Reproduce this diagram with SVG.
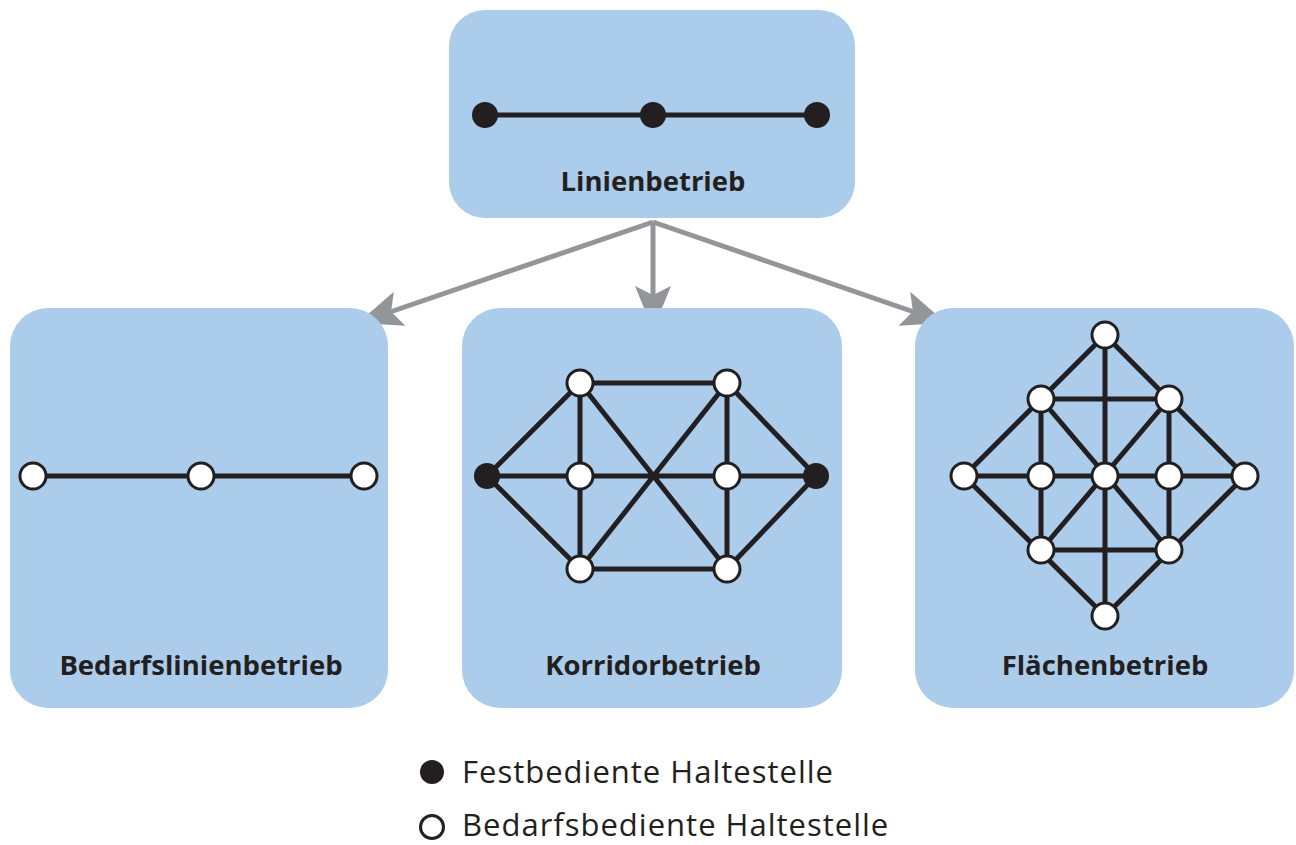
<svg xmlns="http://www.w3.org/2000/svg" width="1296" height="845" viewBox="0 0 1296 845">
<defs>
<style>
.box{fill:#abcdeb}
.lbl{font-family:"Open Sans","Noto Sans",sans-serif;font-weight:700;font-size:27.5px;fill:#231f20;text-anchor:middle}
.leg{font-family:"Open Sans","Noto Sans",sans-serif;font-size:31px;letter-spacing:1px;fill:#231f20}
.e{stroke:#231f20;stroke-width:5;fill:none}
.fix{fill:#231f20}
.dem{fill:#fff;stroke:#231f20;stroke-width:3}
.arr{stroke:#939598;stroke-width:5;fill:none}
</style>
<marker id="ah" markerUnits="userSpaceOnUse" markerWidth="50" markerHeight="40" viewBox="-46 -20 50 40" refX="0" refY="0" orient="auto">
<path d="M0,0 L-44,-18 L-35,0 L-44,18 Z" fill="#939598"/>
</marker>
</defs>

<g id="connectors">
<line class="arr" x1="653" y1="222" x2="358" y2="323" marker-end="url(#ah)"/>
<line class="arr" x1="653" y1="222" x2="653" y2="330" marker-end="url(#ah)"/>
<line class="arr" x1="653" y1="222" x2="946" y2="323" marker-end="url(#ah)"/>
</g>

<g id="linienbetrieb">
<rect class="box" x="449" y="10" width="406" height="208" rx="36"/>
<line class="e" x1="485" y1="115" x2="817" y2="115"/>
<circle class="fix" cx="485" cy="115" r="13"/>
<circle class="fix" cx="653" cy="115" r="13"/>
<circle class="fix" cx="817" cy="115" r="13"/>
<text class="lbl" x="653" y="191">Linienbetrieb</text>
</g>

<g id="bedarfslinienbetrieb">
<rect class="box" x="10" y="308" width="378" height="400" rx="38"/>
<line class="e" x1="33" y1="476" x2="364" y2="476"/>
<circle class="dem" cx="33" cy="476" r="13"/>
<circle class="dem" cx="201" cy="476" r="13"/>
<circle class="dem" cx="364" cy="476" r="13"/>
<text class="lbl" x="201" y="675">Bedarfslinienbetrieb</text>
</g>

<g id="korridorbetrieb">
<rect class="box" x="462" y="308" width="380" height="400" rx="38"/>
<path class="e" d="M487,476 L580,383 L727,383 L816,476 L727,569 L580,569 Z M487,476 L816,476 M580,383 L580,569 M727,383 L727,569 M580,383 L727,569 M580,569 L727,383"/>
<circle class="fix" cx="487" cy="476" r="13"/>
<circle class="fix" cx="816" cy="476" r="13"/>
<circle class="dem" cx="580" cy="383" r="13"/>
<circle class="dem" cx="727" cy="383" r="13"/>
<circle class="dem" cx="580" cy="476" r="13"/>
<circle class="dem" cx="727" cy="476" r="13"/>
<circle class="dem" cx="580" cy="569" r="13"/>
<circle class="dem" cx="727" cy="569" r="13"/>
<text class="lbl" x="653" y="675">Korridorbetrieb</text>
</g>

<g id="flaechenbetrieb">
<rect class="box" x="915" y="308" width="379" height="400" rx="38"/>
<path class="e" d="M1105,335 L1245,476 L1105,616 L964,476 Z M1105,335 L1105,616 M964,476 L1245,476 M1041,399 L1169,399 M1041,550 L1169,550 M1041,399 L1041,550 M1169,399 L1169,550 M1041,399 L1169,550 M1169,399 L1041,550"/>
<circle class="dem" cx="1105" cy="335" r="13"/>
<circle class="dem" cx="1041" cy="399" r="13"/>
<circle class="dem" cx="1169" cy="399" r="13"/>
<circle class="dem" cx="964" cy="476" r="13"/>
<circle class="dem" cx="1041" cy="476" r="13"/>
<circle class="dem" cx="1105" cy="476" r="13"/>
<circle class="dem" cx="1169" cy="476" r="13"/>
<circle class="dem" cx="1245" cy="476" r="13"/>
<circle class="dem" cx="1041" cy="550" r="13"/>
<circle class="dem" cx="1169" cy="550" r="13"/>
<circle class="dem" cx="1105" cy="616" r="13"/>
<text class="lbl" x="1105" y="675">Flächenbetrieb</text>
</g>

<g id="legende">
<circle class="fix" cx="432" cy="772" r="12"/>
<text class="leg" x="462" y="783">Festbediente Haltestelle</text>
<circle class="dem" cx="432" cy="827" r="11.5" stroke-width="2.5"/>
<text class="leg" x="462" y="836">Bedarfsbediente Haltestelle</text>
</g>
</svg>
